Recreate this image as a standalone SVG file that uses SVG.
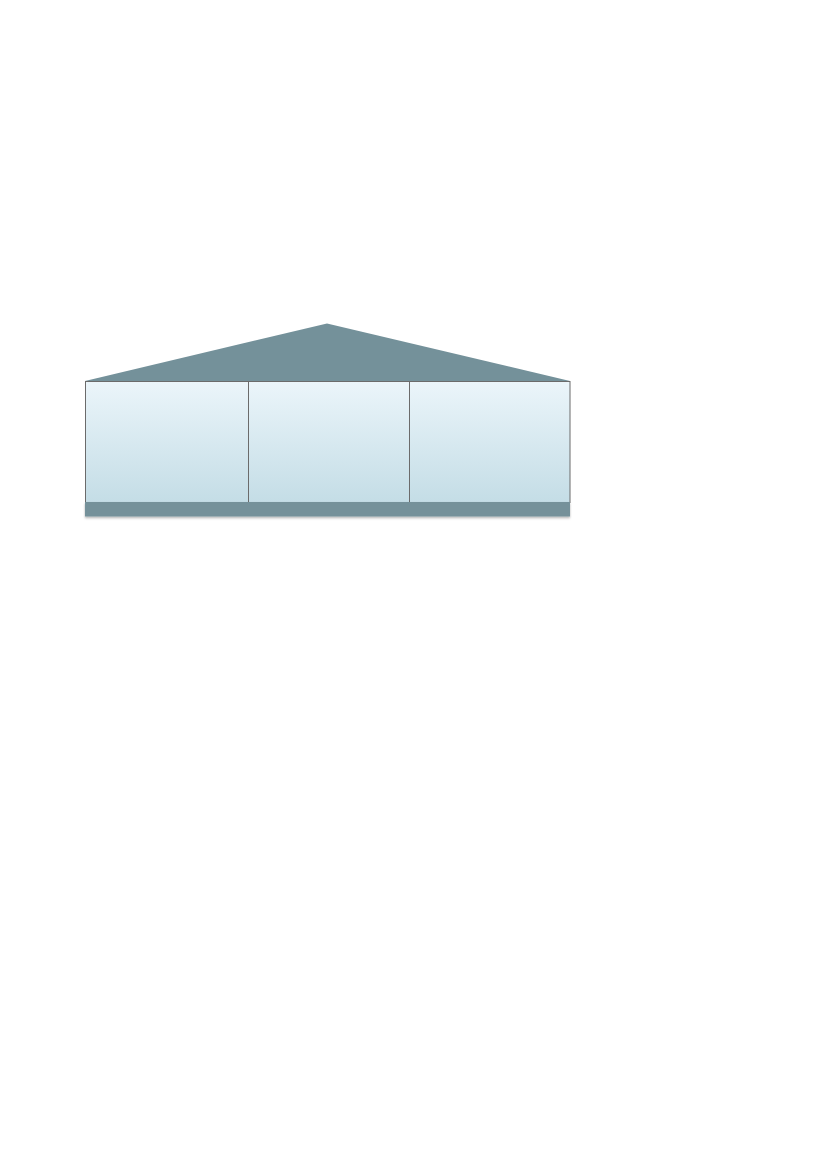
<svg xmlns="http://www.w3.org/2000/svg" width="827" height="1169" viewBox="0 0 827 1169">
<defs>
<linearGradient id="pillarGrad" x1="0" y1="0" x2="0" y2="1">
<stop offset="0" stop-color="#EBF5FA"/>
<stop offset="1" stop-color="#C4DDE6"/>
</linearGradient>
<filter id="shadow" x="-5%" y="-50%" width="110%" height="200%">
<feDropShadow dx="0" dy="1.5" stdDeviation="1" flood-color="#000" flood-opacity="0.3"/>
</filter>
</defs>
<style>
.dark{fill:#74919A;}
.pillar{fill:url(#pillarGrad);stroke:#6B6B6B;stroke-width:1;}
</style>
<rect width="827" height="1169" fill="#FFFFFF"/>
<g id="roof">
<polygon class="dark" points="85,381 327,323.5 570,381"/>
</g>
<g id="pillar1">
<rect class="pillar" x="85.5" y="381.5" width="163" height="121"/>
</g>
<g id="pillar2">
<rect class="pillar" x="248.5" y="381.5" width="161" height="121"/>
</g>
<g id="pillar3">
<rect class="pillar" x="409.5" y="381.5" width="160.5" height="121"/>
</g>
<g id="base">
<rect class="dark" x="85" y="502" width="485" height="14.5" filter="url(#shadow)"/>
</g>
<g id="connectors"/>
</svg>
